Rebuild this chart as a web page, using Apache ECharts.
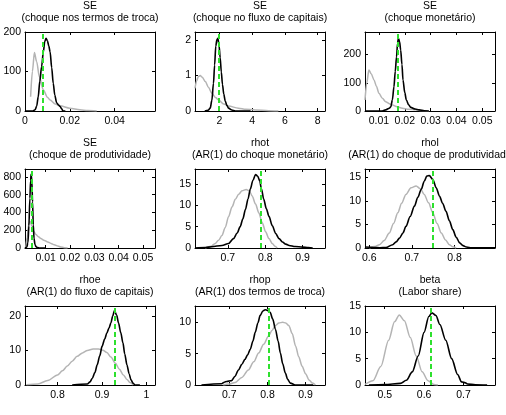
<!DOCTYPE html>
<html><head><meta charset="utf-8">
<script src="https://cdn.jsdelivr.net/npm/echarts@6/dist/echarts.min.js"></script>
<style>html,body{margin:0;padding:0;background:#fff}#c{width:506px;height:415px}</style>
</head><body><div id="c"></div>
<script>
// ---------- data ----------
const titleLine1 = ["SE", "SE", "SE", "SE", "rhot", "rhol", "rhoe", "rhop", "beta"];
const titleLine2 = [
  "(choque nos termos de troca)", "(choque no fluxo de capitais)", "(choque monetário)",
  "(choque de produtividade)", "(AR(1) do choque monetário)", "(AR(1) do choque de produtividade",
  "(AR(1) do fluxo de capitais)", "(AR(1) dos termos de troca)", "(Labor share)"
];
const xTicks = [
  [0, 0.02, 0.04], [2, 4, 6, 8], [0.01, 0.02, 0.03, 0.04, 0.05],
  [0.01, 0.02, 0.03, 0.04, 0.05], [0.7, 0.8, 0.9], [0.6, 0.7, 0.8],
  [0.8, 0.9, 1], [0.7, 0.8, 0.9], [0.5, 0.6, 0.7]
];
const yTicks = [
  [0, 100, 200], [0, 1, 2], [0, 100, 200],
  [0, 200, 400, 600, 800], [0, 5, 10, 15], [0, 5, 10, 15],
  [0, 10, 20], [0, 5, 10], [0, 5, 10, 15]
];
const xRange = [
  [0, 0.058], [0.5, 8.45], [0.0046, 0.0549],
  [0.0015, 0.0549], [0.612, 0.96], [0.59, 0.895],
  [0.727, 1.019], [0.61, 0.951], [0.45, 0.78]
];
const yRange = [
  [0, 200], [0, 2.23], [0, 280],
  [0, 890], [0, 18.5], [0, 16.8],
  [0, 22.9], [0, 12.6], [0, 15]
];
const modes = [0.0079, 1.94, 0.0173, 0.0041, 0.787, 0.748, 0.928, 0.803, 0.617];

const prior1 = [[0.0025,36],[0.0033,100],[0.0042,148],[0.0052,125],[0.0064,87],[0.0082,53],[0.0100,35],[0.0112,28],[0.0135,18],[0.0156,13],[0.020,7],[0.0245,3],[0.028,1],[0.032,0]];
const post1 = [[0,0],[0.0035,0],[0.0045,3],[0.0052,12],[0.0059,36],[0.0066,75],[0.0074,112],[0.0082,150],[0.0088,176],[0.0094,184],[0.0100,178],[0.0106,165],[0.0112,150],[0.0119,110],[0.0126,70],[0.0133,40],[0.0141,21],[0.0150,15],[0.0156,12],[0.0163,6],[0.0170,0],[0.018,0]];

const prior2 = [[0.5,0.64],[0.6,0.85],[0.7,0.97],[0.82,1.0],[0.95,0.95],[1.13,0.83],[1.33,0.66],[1.53,0.5],[1.75,0.38],[1.94,0.31],[2.25,0.2],[2.55,0.14],[3.16,0.08],[3.6,0.05],[4.18,0.03],[5.0,0.01],[5.6,0]];
const post2 = [[1.1,0],[1.3,0.02],[1.43,0.08],[1.53,0.3],[1.63,0.78],[1.7,1.3],[1.77,1.83],[1.84,2.02],[1.9,2.05],[1.97,1.85],[2.04,1.5],[2.11,1.1],[2.18,0.75],[2.26,0.48],[2.35,0.28],[2.45,0.16],[2.55,0.08],[2.75,0.03],[2.96,0],[3.9,0]];

const prior3 = [[0.0046,39],[0.0053,100],[0.0061,145],[0.0070,132],[0.0081,110],[0.0090,88],[0.0100,63],[0.0113,45],[0.0126,33],[0.0140,26],[0.0152,21],[0.017,15],[0.019,10],[0.0215,6],[0.0242,4],[0.0265,2],[0.0293,0]];
const post3 = [[0.0046,0],[0.011,0],[0.0126,4],[0.0140,10],[0.0146,15],[0.0152,40],[0.0158,86],[0.0163,140],[0.0168,192],[0.0172,240],[0.0175,258],[0.0180,245],[0.0184,216],[0.0189,165],[0.0193,110],[0.0200,65],[0.0206,39],[0.0215,22],[0.0223,13],[0.0240,7],[0.0255,4],[0.0275,1],[0.0293,0]];

const prior4 = [[0.0018,0],[0.0024,120],[0.0030,260],[0.0036,300],[0.0043,250],[0.0050,190],[0.0060,151],[0.0070,128],[0.0080,106],[0.0095,85],[0.0108,68],[0.0122,52],[0.0135,37],[0.0150,22],[0.0162,11],[0.0176,4],[0.019,0]];
const post4 = [[0.0015,0],[0.0022,8],[0.0027,60],[0.0031,250],[0.0035,560],[0.0038,760],[0.0040,830],[0.0043,760],[0.0046,520],[0.0049,260],[0.0052,110],[0.0056,40],[0.0060,15],[0.0066,5],[0.0075,0],[0.010,0]];

const prior5 = [[0.639,0],[0.655,0.4],[0.666,1.05],[0.675,1.8],[0.684,2.9],[0.693,4.8],[0.702,7.4],[0.711,9.6],[0.72,11.4],[0.729,12.6],[0.738,13.4],[0.749,13.7],[0.757,13.4],[0.765,12.2],[0.774,10.3],[0.783,8.2],[0.792,5.9],[0.801,3.8],[0.81,2.2],[0.819,1.05],[0.826,0.4],[0.832,0]];
const post5 = [[0.612,0],[0.64,0.1],[0.657,0.3],[0.684,0.6],[0.702,1.05],[0.715,2.2],[0.725,3.5],[0.733,5.0],[0.74,6.8],[0.747,9],[0.754,11.5],[0.76,13.8],[0.767,15.8],[0.774,17.2],[0.78,16.8],[0.785,15.8],[0.79,13.8],[0.796,11.4],[0.803,9.2],[0.81,7.4],[0.819,5.2],[0.828,3.4],[0.837,2.2],[0.846,1.4],[0.855,0.9],[0.864,0.6],[0.88,0.35],[0.9,0.2],[0.915,0.1],[0.927,0]];

const prior6 = [[0.6,0],[0.612,0.3],[0.624,0.7],[0.635,1.6],[0.647,3.2],[0.657,5.2],[0.667,7.5],[0.676,9.5],[0.686,11.4],[0.698,12.8],[0.71,13.2],[0.72,12.6],[0.729,11.4],[0.739,9.6],[0.749,7.5],[0.759,5.2],[0.769,3.2],[0.779,1.7],[0.788,0.7],[0.796,0.25],[0.804,0]];
const post6 = [[0.59,0.2],[0.61,0.1],[0.625,0.05],[0.639,0.1],[0.655,0.7],[0.663,1.3],[0.671,2.1],[0.679,3.2],[0.686,4.6],[0.696,6.7],[0.706,8.9],[0.714,10.8],[0.722,12.5],[0.729,14.2],[0.735,15.3],[0.741,15.4],[0.749,14.6],[0.757,12.8],[0.765,11],[0.772,9.5],[0.78,7.8],[0.788,5.8],[0.796,3.9],[0.804,2.3],[0.812,1.1],[0.82,0.5],[0.828,0.2],[0.84,0.05],[0.895,0.05]];

const prior7 = [[0.73,0.1],[0.756,0.3],[0.778,1.3],[0.8,2.9],[0.811,4.1],[0.822,5.5],[0.833,6.9],[0.844,8.3],[0.856,9.3],[0.867,10],[0.88,10.4],[0.892,10.4],[0.902,10.1],[0.911,9.4],[0.92,8.1],[0.93,6.3],[0.939,4.6],[0.948,2.9],[0.956,1.6],[0.963,0.7],[0.97,0]];
const post7 = [[0.833,0],[0.867,0.3],[0.873,0.9],[0.878,1.9],[0.884,3.6],[0.889,5.8],[0.895,8.5],[0.9,11.2],[0.906,13.3],[0.911,15.1],[0.916,16.6],[0.92,18],[0.924,20],[0.928,21.6],[0.933,20.2],[0.937,18],[0.942,15.2],[0.947,12.2],[0.951,9],[0.956,5.8],[0.961,3.2],[0.965,1.5],[0.97,0.5],[0.974,0],[0.985,0]];

const prior8 = [[0.684,0],[0.7,0.15],[0.715,0.4],[0.733,1.2],[0.75,2.4],[0.764,3.7],[0.777,5.1],[0.79,6.5],[0.803,7.8],[0.812,8.7],[0.821,9.5],[0.83,9.9],[0.84,10],[0.848,9.9],[0.856,9.5],[0.865,8.2],[0.874,6.2],[0.882,4.5],[0.891,3],[0.9,1.8],[0.909,0.8],[0.918,0.3],[0.926,0]];
const post8 = [[0.627,0],[0.68,0.2],[0.687,0.45],[0.693,0.55],[0.706,0.7],[0.715,1.4],[0.724,2.4],[0.733,3.3],[0.741,4.1],[0.748,4.8],[0.755,5.7],[0.762,7],[0.768,8.4],[0.775,9.9],[0.781,11.1],[0.788,11.8],[0.794,12.0],[0.8,11.9],[0.807,11.6],[0.814,10.5],[0.821,8.9],[0.828,7],[0.834,5.1],[0.84,3.4],[0.847,1.9],[0.853,0.9],[0.86,0.3],[0.873,0],[0.92,0]];

const prior9 = [[0.45,0.1],[0.47,0.8],[0.49,3.5],[0.51,8.5],[0.525,12],[0.537,13.3],[0.55,12.2],[0.565,9],[0.58,5.5],[0.595,2.5],[0.61,0.8],[0.625,0.1],[0.635,0]];
const post9 = [[0.46,0],[0.5,0.1],[0.54,0.3],[0.555,0.9],[0.57,2.5],[0.585,5.5],[0.6,10],[0.612,13],[0.62,13.7],[0.63,13.2],[0.64,11.5],[0.655,8.5],[0.67,5],[0.685,2],[0.695,0.6],[0.705,0.4],[0.71,0.2],[0.73,0.05],[0.76,0]];

const priors = [prior1, prior2, prior3, prior4, prior5, prior6, prior7, prior8, prior9];
const posteriors = [post1, post2, post3, post4, post5, post6, post7, post8, post9];

// ---------- layout ----------
const colLeft = [25, 195, 365];
const rowTop = [32, 169, 306];
const gridW = 130, gridH = 79;
const FONT = 'Liberation Sans, Arial, Helvetica, sans-serif';
const FS = 10.5;

const grids = [], xAxes = [], yAxes = [], series = [], graphics = [];
for (let i = 0; i < 9; i++) {
  const r = Math.floor(i / 3), c = i % 3;
  const L = colLeft[c], T = rowTop[r];
  grids.push({ left: L, top: T, width: gridW, height: gridH, containLabel: false });
  const lineSt = { show: true, onZero: false, lineStyle: { color: '#000', width: 1 } };
  const tickSt = (vals) => ({ show: true, inside: true, length: 3, customValues: vals, lineStyle: { color: '#000', width: 1 } });
  const lab = (vals, m) => ({ show: true, customValues: vals, color: '#000', fontSize: FS, fontFamily: FONT, margin: m });
  xAxes.push({ gridIndex: i, type: 'value', position: 'bottom', min: xRange[i][0], max: xRange[i][1],
    axisLine: lineSt, axisTick: tickSt(xTicks[i]), axisLabel: lab(xTicks[i], 5), splitLine: { show: false } });
  xAxes.push({ gridIndex: i, type: 'value', position: 'top', min: xRange[i][0], max: xRange[i][1],
    axisLine: lineSt, axisTick: tickSt(xTicks[i]), axisLabel: { show: false }, splitLine: { show: false } });
  yAxes.push({ gridIndex: i, type: 'value', position: 'left', min: yRange[i][0], max: yRange[i][1],
    axisLine: lineSt, axisTick: tickSt(yTicks[i]), axisLabel: lab(yTicks[i], 4), splitLine: { show: false } });
  yAxes.push({ gridIndex: i, type: 'value', position: 'right', min: yRange[i][0], max: yRange[i][1],
    axisLine: lineSt, axisTick: tickSt(yTicks[i]), axisLabel: { show: false }, splitLine: { show: false } });

  series.push({ type: 'line', xAxisIndex: 2 * i, yAxisIndex: 2 * i, data: priors[i], showSymbol: false,
    smooth: 0.3, smoothMonotone: 'x', lineStyle: { color: '#b4b4b4', width: 1.5 }, z: 2, silent: true });
  series.push({ type: 'line', xAxisIndex: 2 * i, yAxisIndex: 2 * i, data: posteriors[i], showSymbol: false,
    smooth: 0.3, smoothMonotone: 'x', lineStyle: { color: '#000', width: 1.6 }, z: 3, silent: true,
    markLine: { silent: true, symbol: 'none', precision: 8, label: { show: false },
      lineStyle: { color: '#2ee02e', type: [5, 3], width: 2 },
      data: [{ xAxis: modes[i] }] } });

  const cx = L + gridW / 2;
  graphics.push({ type: 'text', x: cx, y: T - 26, style: { text: titleLine1[i], fill: '#000', font: FS + 'px ' + FONT, align: 'center', verticalAlign: 'middle', textAlign: 'center', textVerticalAlign: 'middle' } });
  graphics.push({ type: 'text', x: cx, y: T - 13.5, style: { text: titleLine2[i], fill: '#000', font: FS + 'px ' + FONT, align: 'center', verticalAlign: 'middle', textAlign: 'center', textVerticalAlign: 'middle' } });
}

const chart = echarts.init(document.getElementById('c'), null, { renderer: 'canvas' });
chart.setOption({
  animation: false,
  backgroundColor: '#fff',
  grid: grids, xAxis: xAxes, yAxis: yAxes, series: series, graphic: graphics
});
</script></body></html>
